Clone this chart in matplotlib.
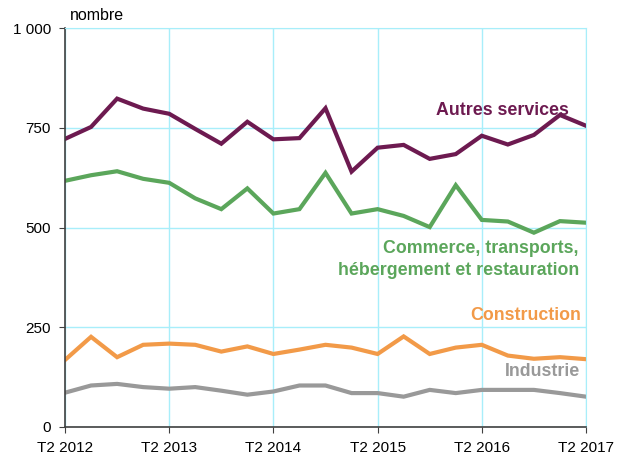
import matplotlib.pyplot as plt

plt.rcParams['font.family'] = ['Liberation Sans', 'DejaVu Sans']

trimestres = list(range(21))
tick_pos = [0, 4, 8, 12, 16, 20]
tick_labels = ["T2 2012", "T2 2013", "T2 2014", "T2 2015", "T2 2016", "T2 2017"]

autres_services = [722, 752, 823, 798, 785, 747, 710, 765, 721, 724, 799,
                   640, 700, 707, 672, 684, 730, 708, 732, 782, 755]
commerce = [617, 631, 641, 622, 612, 573, 546, 598, 535, 546, 637,
            535, 546, 529, 501, 606, 519, 515, 487, 516, 512]
construction = [168, 226, 175, 206, 209, 206, 189, 202, 183, 194, 206,
                199, 183, 227, 183, 199, 206, 179, 171, 175, 170]
industrie = [86, 104, 108, 100, 96, 100, 91, 81, 89, 104, 104,
             85, 85, 76, 93, 85, 93, 93, 93, 85, 76]

c_autres = "#6D1A50"
c_commerce = "#5BA65B"
c_constr = "#F29A48"
c_indus = "#999999"
grid_c = "#A8EEFA"

fig = plt.figure(figsize=(6.17, 4.57), dpi=100)
ax = fig.add_axes([65/617, 1-427/457, 521/617, 399/457])

ax.plot(trimestres, industrie, color=c_indus, lw=3, solid_joinstyle='miter')
ax.plot(trimestres, construction, color=c_constr, lw=3, solid_joinstyle='miter')
ax.plot(trimestres, commerce, color=c_commerce, lw=3, solid_joinstyle='miter')
ax.plot(trimestres, autres_services, color=c_autres, lw=3, solid_joinstyle='miter')

ax.set_xlim(0, 20)
ax.set_ylim(0, 1000)
ax.set_xticks(tick_pos)
ax.set_xticklabels(tick_labels)
ax.set_yticks([0, 250, 500, 750, 1000])
ax.set_yticklabels(["0", "250", "500", "750", "1 000"])
ax.tick_params(labelsize=11, length=4, color="#404040", pad=6)
ax.grid(True, color=grid_c, lw=1)
ax.set_axisbelow(True)
for s in ["top", "right"]:
    ax.spines[s].set_color(grid_c)
for s in ["left", "bottom"]:
    ax.spines[s].set_color("#404040")
    ax.spines[s].set_linewidth(1.2)

lab = dict(fontsize=12.8, fontweight='bold', va='center')
ax.text(16.8, 793, "Autres services", color=c_autres, ha='center', **lab)
ax.text(19.73, 420, "Commerce, transports,\nhébergement et restauration",
        color=c_commerce, ha='right', multialignment='right',
        linespacing=1.35, **lab)
ax.text(19.8, 280, "Construction", color=c_constr, ha='right', **lab)
ax.text(19.77, 138, "Industrie", color=c_indus, ha='right', **lab)

fig.text(70/617, 1-15/457, "nombre", fontsize=11.5, va='center', ha='left')

plt.savefig("out.png", dpi=100)
